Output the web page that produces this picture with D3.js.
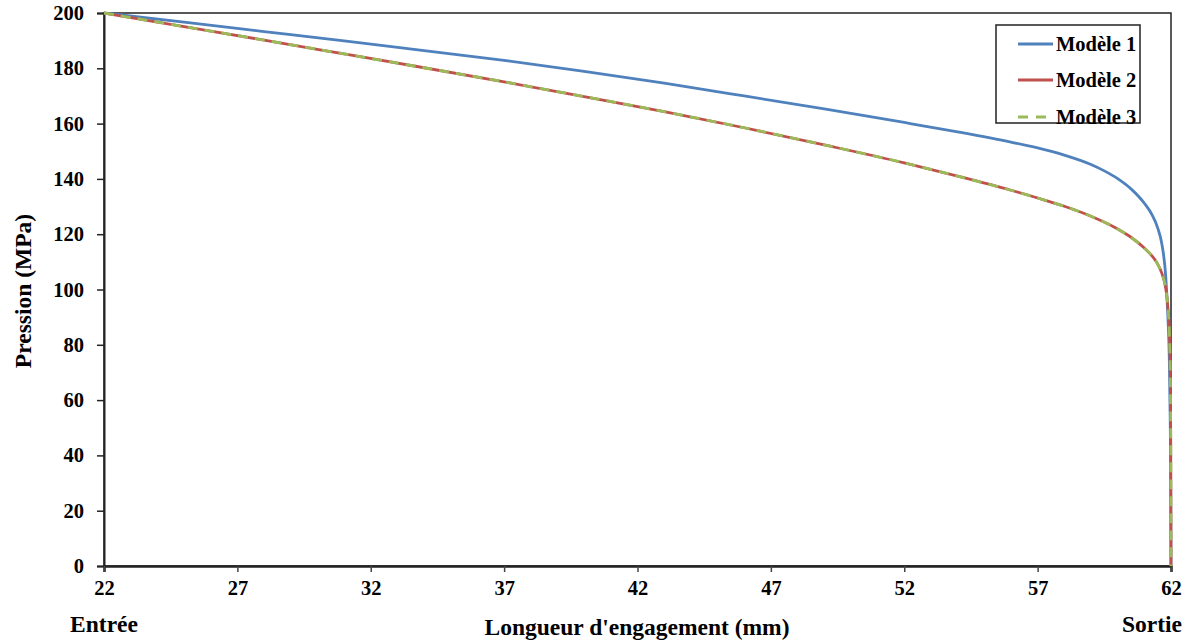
<!DOCTYPE html>
<html>
<head>
<meta charset="utf-8">
<script src="https://cdn.jsdelivr.net/npm/d3@7"></script>
<style>
  html, body { margin: 0; padding: 0; background: #fff; }
  svg { display: block; }
  text { font-family: "Liberation Serif", "Times New Roman", serif; font-weight: bold; fill: #000; }
</style>
</head>
<body>
<svg id="chart" width="1194" height="644"></svg>
<script>
// ---- Data ----
const xTicks = [22, 27, 32, 37, 42, 47, 52, 57, 62];
const yTicks = [0, 20, 40, 60, 80, 100, 120, 140, 160, 180, 200];

const model1X = [22, 25, 28, 31, 34, 37, 40, 43, 46, 49, 52, 54, 56, 57, 58, 59, 59.5, 60, 60.5, 61, 61.3, 61.5, 61.65, 61.8, 61.88, 61.94, 61.97, 61.99, 62];
const model1Y = [200, 196.7, 193.3, 189.9, 186.4, 182.9, 178.9, 174.6, 170.0, 165.3, 160.4, 157.0, 153.3, 151.2, 148.6, 145.2, 142.9, 140.1, 136.4, 131.2, 126.8, 122.3, 116.8, 105, 91, 73, 53, 28, 0];

const model2X = [22, 25, 28, 31, 34, 37, 40, 43, 46, 49, 52, 54, 56, 57, 58, 59, 60, 60.5, 61, 61.3, 61.5, 61.65, 61.8, 61.88, 61.94, 61.97, 61.99, 62];
const model2Y = [200, 195.1, 190.2, 185.2, 180.2, 175.1, 169.8, 164.3, 158.5, 152.3, 145.8, 141.0, 135.9, 133.1, 130.1, 126.5, 121.9, 118.9, 115.0, 112.0, 109.2, 106.0, 100.5, 94, 84, 72, 45, 0];

// Modèle 3 practically coincides with Modèle 2
const model3X = [22, 25, 28, 31, 34, 37, 40, 43, 46, 49, 52, 54, 56, 57, 58, 59, 60, 60.5, 61, 61.3, 61.5, 61.65, 61.8, 61.88, 61.94, 61.97, 61.99, 62];
const model3Y = [200, 195.1, 190.2, 185.2, 180.2, 175.1, 169.8, 164.3, 158.5, 152.3, 145.8, 141.0, 135.9, 133.1, 130.1, 126.5, 121.9, 118.9, 115.0, 112.0, 109.2, 106.0, 100.5, 94, 84, 72, 45, 0];

const seriesNames = ["Modèle 1", "Modèle 2", "Modèle 3"];
const seriesColors = ["#4F81BD", "#C0504D", "#9BBB59"];

// ---- Layout ----
const svg = d3.select("#chart");
const L = 104, R = 1171, T = 13, B = 566;

const x = d3.scaleLinear().domain([22, 62]).range([L, R]);
const y = d3.scaleLinear().domain([0, 200]).range([B, T]);

// plot frame
svg.append("rect").attr("x", L).attr("y", T).attr("width", R - L).attr("height", B - T)
  .attr("fill", "none").attr("stroke", "#222").attr("stroke-width", 1.5);

// axes
const yAxis = d3.axisLeft(y).tickValues(yTicks).tickSize(7).tickPadding(13).tickFormat(d3.format("d"));
const gy = svg.append("g").attr("transform", `translate(${L},0)`).call(yAxis);
gy.select(".domain").attr("stroke", "#222").attr("stroke-width", 2);
gy.selectAll(".tick line").attr("stroke", "#222").attr("stroke-width", 1.5);
gy.selectAll(".tick text").style("font-size", "20.5px").attr("fill", "#000");

const xAxis = d3.axisBottom(x).tickValues(xTicks).tickSize(6).tickPadding(8).tickFormat(d3.format("d"));
const gx = svg.append("g").attr("transform", `translate(0,${B})`).call(xAxis);
gx.select(".domain").attr("stroke", "#222").attr("stroke-width", 2.5);
gx.selectAll(".tick line").attr("stroke", "#444").attr("stroke-width", 1.5);
gx.selectAll(".tick text").style("font-size", "20.5px").attr("fill", "#000");

// axis titles
svg.append("text").attr("x", 637).attr("y", 635).attr("text-anchor", "middle")
  .style("font-size", "23.5px").text("Longueur d'engagement (mm)");
svg.append("text").attr("transform", "translate(31,291) rotate(-90)").attr("text-anchor", "middle")
  .style("font-size", "23.5px").text("Pression (MPa)");
svg.append("text").attr("x", x(22)).attr("y", 632).attr("text-anchor", "middle")
  .style("font-size", "23.5px").text("Entrée");
svg.append("text").attr("x", 1182).attr("y", 632).attr("text-anchor", "end")
  .style("font-size", "23.5px").text("Sortie");

// lines
const line = d3.line().x(d => x(d[0])).y(d => y(d[1])).curve(d3.curveMonotoneX);
const data = [
  d3.zip(model1X, model1Y),
  d3.zip(model2X, model2Y),
  d3.zip(model3X, model3Y)
];
const dashes = [null, null, "10,7"];
data.forEach((pts, i) => {
  svg.append("path").datum(pts).attr("d", line)
    .attr("fill", "none").attr("stroke", seriesColors[i]).attr("stroke-width", 2.8)
    .attr("stroke-dasharray", dashes[i]);
});

// legend
const lg = svg.append("g");
lg.append("rect").attr("x", 996).attr("y", 25).attr("width", 144).attr("height", 98)
  .attr("fill", "#fff").attr("stroke", "#222").attr("stroke-width", 1.5);
const legY = [44, 80, 117];
seriesNames.forEach((n, i) => {
  lg.append("line").attr("x1", 1018).attr("x2", 1053).attr("y1", legY[i]).attr("y2", legY[i])
    .attr("stroke", seriesColors[i]).attr("stroke-width", 2.8)
    .attr("stroke-dasharray", dashes[i] ? "10,8" : null);
  lg.append("text").attr("x", 1056).attr("y", legY[i] + 7).style("font-size", "20.5px").text(n);
});
</script>
</body>
</html>
